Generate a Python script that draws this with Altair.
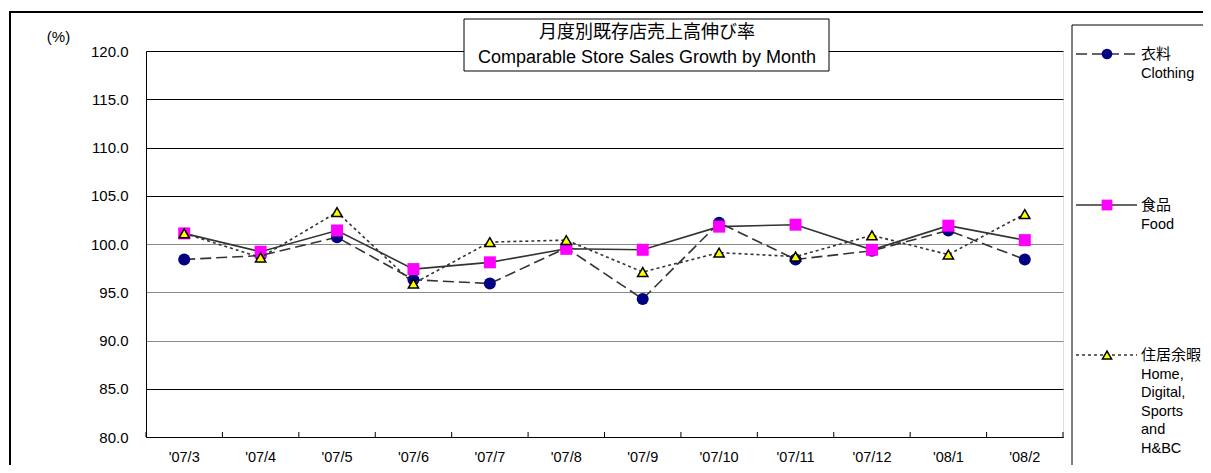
import altair as alt
import pandas as pd

# ---------------- data ----------------
months = ["'07/3", "'07/4", "'07/5", "'07/6", "'07/7", "'07/8",
          "'07/9", "'07/10", "'07/11", "'07/12", "'08/1", "'08/2"]
clothing = [98.4, 98.8, 100.7, 96.3, 95.9, 99.6, 94.3, 102.2, 98.4, 99.3, 101.4, 98.4]
food = [101.1, 99.2, 101.4, 97.4, 98.1, 99.5, 99.4, 101.8, 102.0, 99.4, 101.9, 100.4]
home = [101.1, 98.6, 103.3, 95.9, 100.2, 100.4, 97.1, 99.1, 98.7, 100.9, 98.9, 103.1]

series_keys = ["Clothing", "Food", "Home"]
series_values = [clothing, food, home]
legend_jp = ["衣料", "食品", "住居余暇"]
legend_en = [["Clothing"], ["Food"], ["Home,", "Digital,", "Sports", "and", "H&BC"]]
title_jp = "月度別既存店売上高伸び率"
title_en = "Comparable Store Sales Growth by Month"
y_ticks = [80, 85, 90, 95, 100, 105, 110, 115, 120]
y_unit = "(%)"

# ---------------- styles ----------------
W, H = 917, 386
FONT = "Liberation Sans, Arial, Noto Sans CJK JP, sans-serif"
LINE = "#333333"
styles = {
    "Clothing": dict(dash=[11, 5], shape="circle", fill="#000080", stroke="#000080", size=144, sw=0),
    "Food": dict(dash=None, shape="square", fill="#ff00ff", stroke="#ff00ff", size=144, sw=0),
    "Home": dict(dash=[3, 3], shape="triangle-up", fill="#ffff00", stroke="#000000", size=105, sw=1.5),
}

one = pd.DataFrame({"k": [0]})

x_scale = alt.Scale(type="band", domain=months, paddingInner=0, paddingOuter=0)
x_axis = alt.Axis(title=None, ticks=False, tickSize=0, labelPadding=13, labelFontSize=14.5,
                  labelFont=FONT, labelColor="black", domainColor="black", domainWidth=1,
                  grid=False, labelAngle=0)
y_scale = alt.Scale(domain=[80, 120], nice=False, zero=False)
y_axis = alt.Axis(values=y_ticks, format=".1f", ticks=False, tickSize=0, labelPadding=18,
                  labelFontSize=15, labelFont=FONT, labelColor="black",
                  domainColor="black", domainWidth=1, grid=True,
                  gridColor={"condition": {"test": "datum.value == 100 || datum.value == 95 || datum.value == 90",
                                           "value": "#8a8a8a"}, "value": "#000000"},
                  gridWidth=1, title=y_unit, titleAngle=0, titleX=-88, titleY=-15,
                  titleAlign="center", titleBaseline="middle", titleFontSize=15,
                  titleFontWeight="normal", titleFont=FONT, titleColor="black")


def X(bp=0.5):
    return alt.X("month:N", scale=x_scale, axis=x_axis, sort=months, bandPosition=bp)


def Y():
    return alt.Y("value:Q", scale=y_scale, axis=y_axis)


def hline(x1, x2, y, width=1, color="black", dash=None):
    kw = dict(color=color, strokeWidth=width)
    if dash:
        kw["strokeDash"] = dash
    return alt.Chart(one).mark_rule(**kw).encode(x=alt.value(x1), x2=alt.value(x2), y=alt.value(y))


def vline(x, y1, y2, width=1, color="black"):
    return alt.Chart(one).mark_rule(color=color, strokeWidth=width).encode(
        x=alt.value(x), y=alt.value(y1), y2=alt.value(y2))


layers = []

# outer frame (left and top edges; right/bottom lie outside the picture)
layers.append(hline(-137, W + 200, -39, width=2))
layers.append(vline(-136, -40, H + 100, width=2))

# title box
layers.append(alt.Chart(one).mark_rect(fill="white", stroke="black", strokeWidth=1).encode(
    x=alt.value(318), x2=alt.value(683), y=alt.value(-32), y2=alt.value(20)))

# x ticks (at band edges, pointing up)
tick_df = pd.DataFrame({"month": months})
layers.append(alt.Chart(tick_df).mark_rule(color="black", strokeWidth=1).encode(
    x=X(0), y=alt.value(H - 5), y2=alt.value(H)))
layers.append(vline(W, H - 5, H))

# series
for key, vals in zip(series_keys, series_values):
    st = styles[key]
    df = pd.DataFrame({"month": months, "value": vals, "series": key})
    line_kw = dict(color=LINE, strokeWidth=1.6)
    if st["dash"]:
        line_kw["strokeDash"] = st["dash"]
    layers.append(alt.Chart(df).mark_line(**line_kw).encode(x=X(), y=Y()))
    layers.append(alt.Chart(df).mark_point(shape=st["shape"], filled=True, fill=st["fill"],
                                           stroke=st["stroke"], strokeWidth=st["sw"],
                                           size=st["size"], opacity=1).encode(x=X(), y=Y()))

# title texts
layers.append(alt.Chart(one).mark_text(font=FONT, fontSize=18, align="center", baseline="middle",
                                       color="black").encode(
    x=alt.value(501), y=alt.value(-18), text=alt.value(title_jp)))
layers.append(alt.Chart(one).mark_text(font=FONT, fontSize=18, align="center", baseline="middle",
                                       color="black").encode(
    x=alt.value(501), y=alt.value(7), text=alt.value(title_en)))

# legend box (left and top edges)
layers.append(hline(926, W + 200, -26))
layers.append(vline(926, -26, H + 100))

legend_y = [3, 154, 304]
for key, ly, jp, en in zip(series_keys, legend_y, legend_jp, legend_en):
    st = styles[key]
    layers.append(hline(930, 991, ly, width=1.6, color=LINE, dash=st["dash"]))
    layers.append(alt.Chart(one).mark_point(shape=st["shape"], filled=True, fill=st["fill"],
                                            stroke=st["stroke"], strokeWidth=st["sw"],
                                            size=st["size"] * 0.8, opacity=1).encode(
        x=alt.value(961), y=alt.value(ly)))
    layers.append(alt.Chart(one).mark_text(font=FONT, fontSize=15, align="left", baseline="middle",
                                           color="black").encode(
        x=alt.value(995), y=alt.value(ly), text=alt.value(jp)))
    for i, line in enumerate(en):
        layers.append(alt.Chart(one).mark_text(font=FONT, fontSize=14.5, align="left",
                                               baseline="middle", color="black").encode(
            x=alt.value(995), y=alt.value(ly + 20 + i * 18.4), text=alt.value(line)))

chart = alt.layer(*layers).properties(
    width=W, height=H,
    padding={"left": 138, "top": 43, "right": 140, "bottom": 28},
    autosize=alt.AutoSizeParams(type="none"),
).configure_view(stroke=None).configure(background="white")

chart.save("out.html", embed_options={"renderer": "svg", "actions": False})
